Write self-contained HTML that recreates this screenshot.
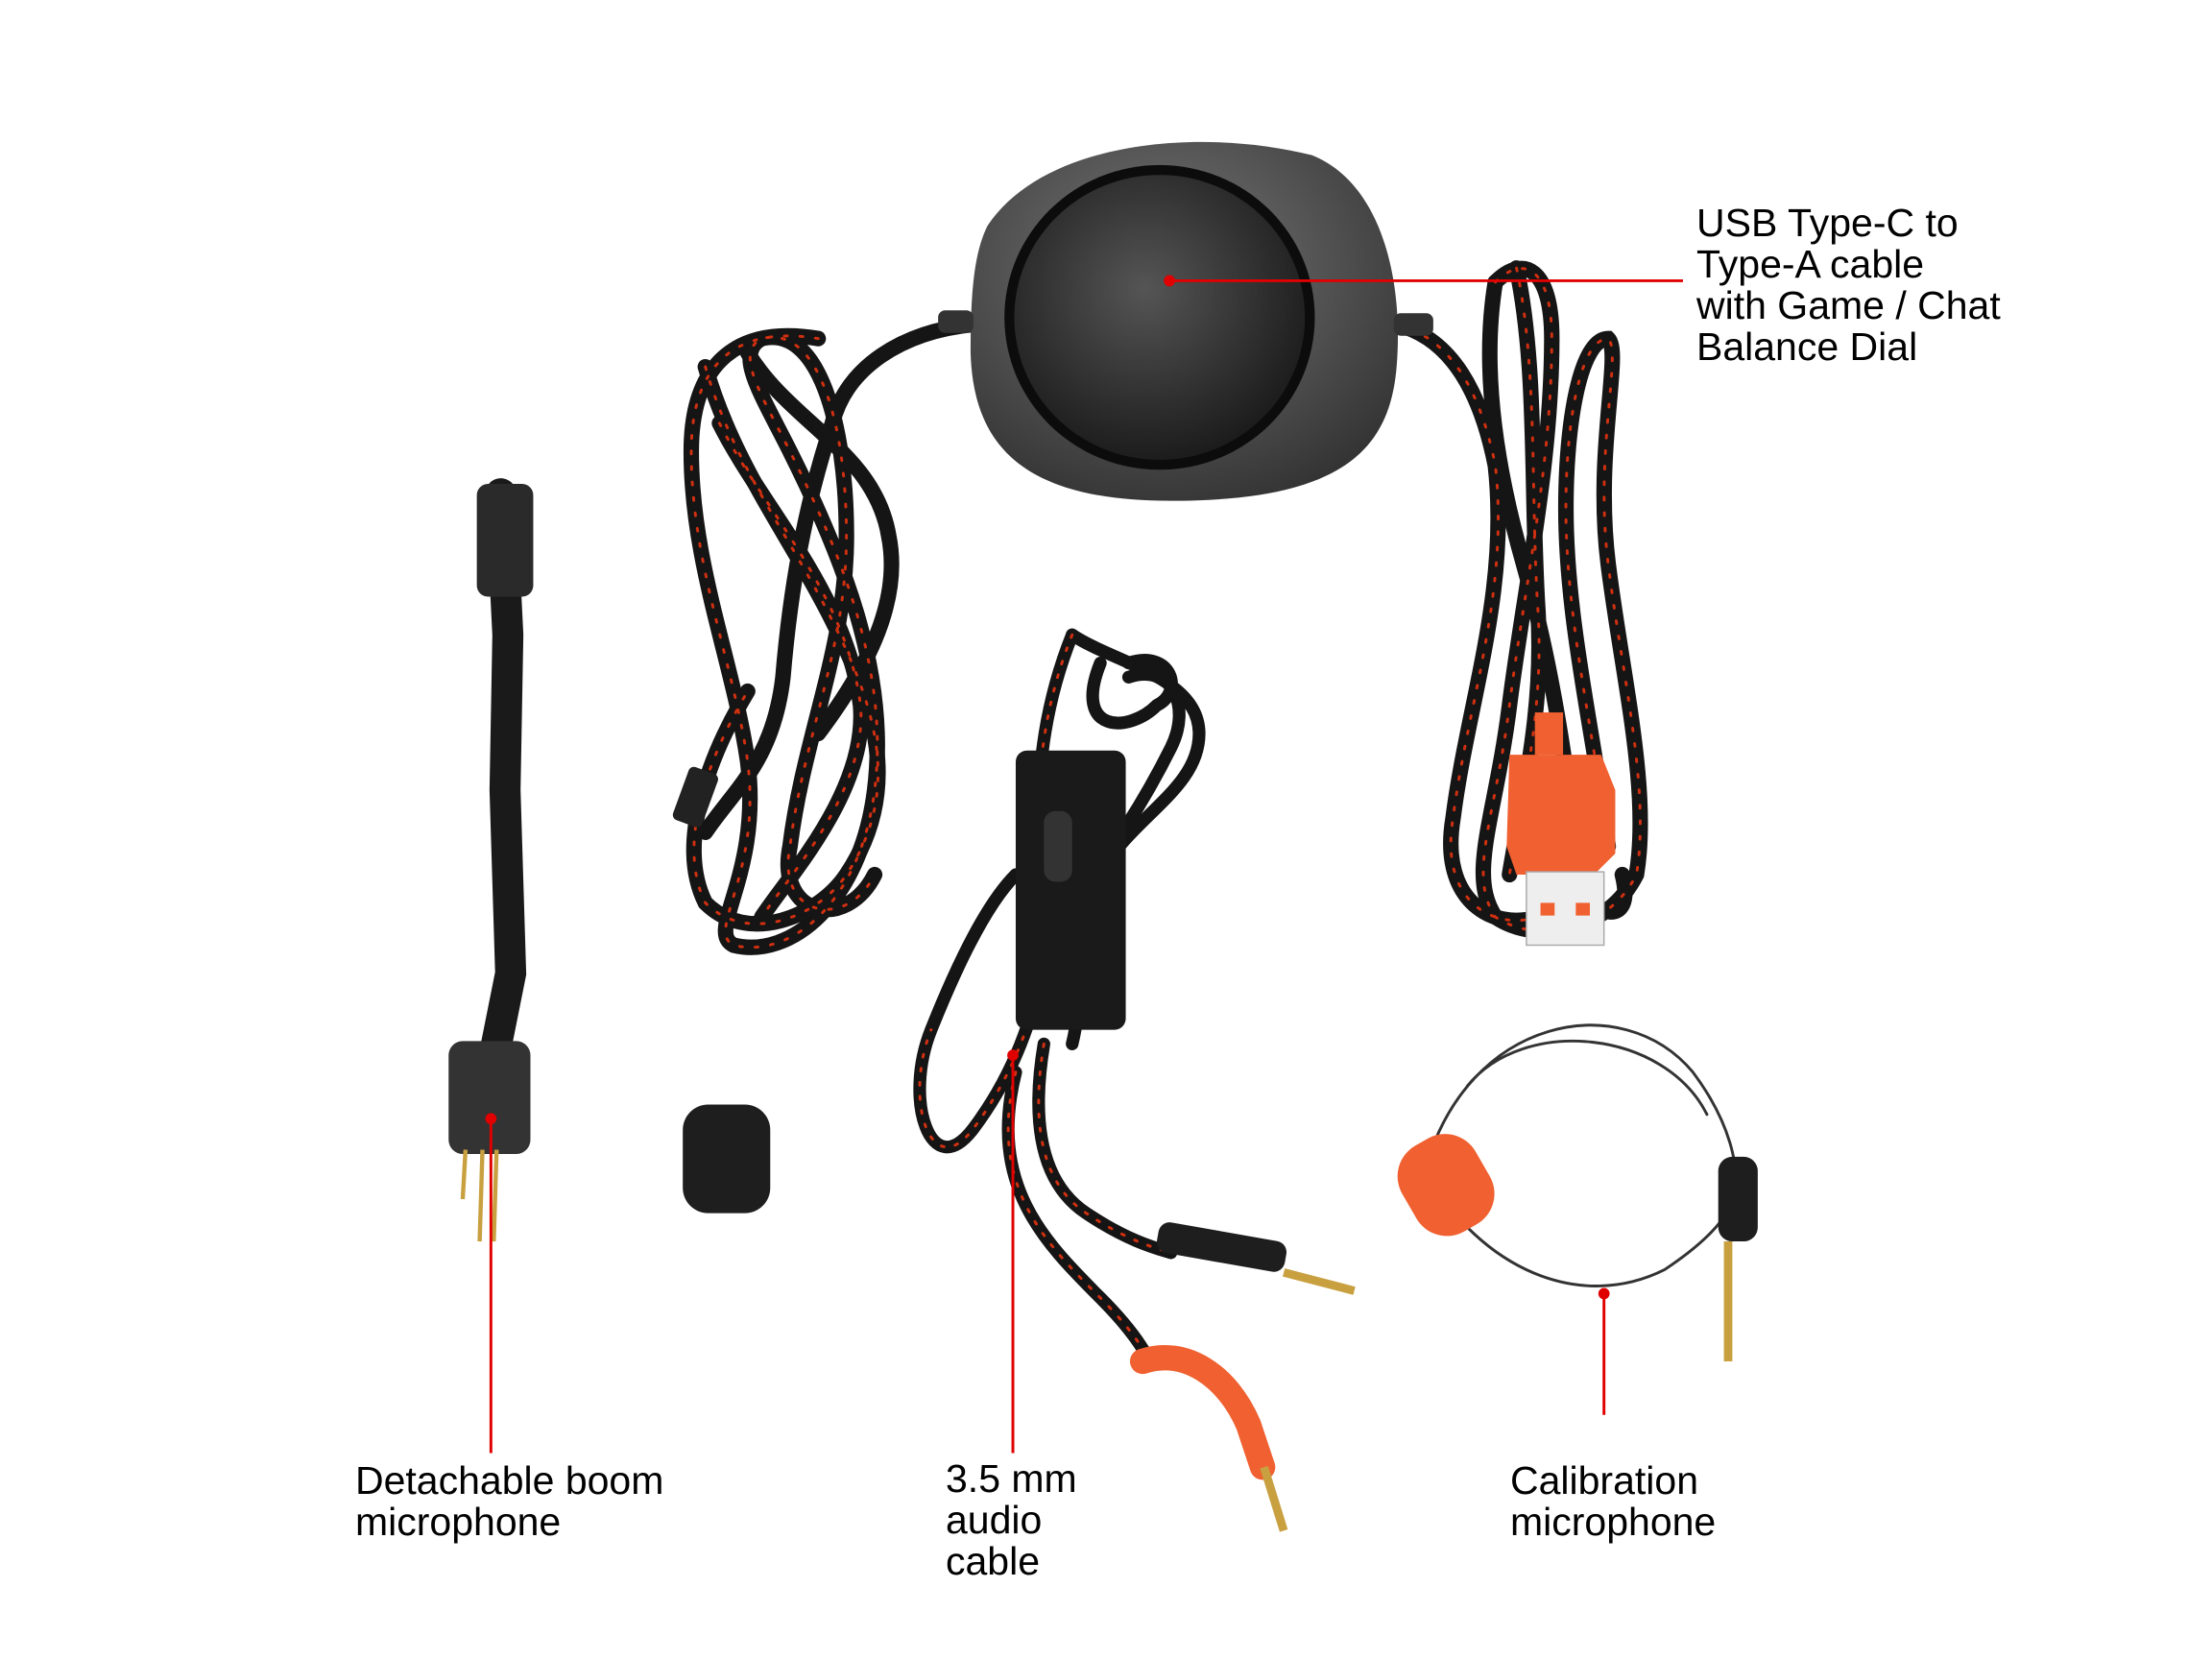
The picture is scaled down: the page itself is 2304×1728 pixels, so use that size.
<!DOCTYPE html>
<html><head><meta charset="utf-8"><style>
html,body{margin:0;padding:0;background:#fff;}
body{width:2304px;height:1728px;position:relative;overflow:hidden;}
svg{position:absolute;left:0;top:0;}
.t{position:absolute;font-family:"Liberation Sans",sans-serif;font-size:41px;line-height:43px;color:#000;white-space:nowrap;}
</style></head><body>
<svg width="2304" height="1728" viewBox="0 0 1568 1176" preserveAspectRatio="none">
<defs>
<radialGradient id="g1" cx="45%" cy="35%" r="70%"><stop offset="0" stop-color="#777"/><stop offset="1" stop-color="#333"/></radialGradient>
<radialGradient id="g2" cx="45%" cy="40%" r="65%"><stop offset="0" stop-color="#555"/><stop offset="1" stop-color="#181818"/></radialGradient>
</defs>
<g fill="none" stroke-linecap="round">
<g stroke="#151515" stroke-width="11">
<path d="M690 230 C640 235 600 260 590 300 C570 360 560 420 555 480 C548 540 520 560 500 590"/>
<path d="M580 240 C520 230 490 260 490 320 C490 400 520 470 530 540 C540 620 500 660 520 670 C560 680 610 640 620 560 C630 480 600 400 560 320 C540 280 520 250 540 240 C580 230 600 300 600 380 C600 460 570 520 560 600 C550 650 600 660 620 620"/>
<path d="M500 260 C520 330 560 380 590 440 C620 500 640 560 600 620 C580 650 530 670 500 640 C480 600 500 540 530 490"/>
<path d="M530 250 C560 300 620 320 630 380 C640 430 610 480 580 520"/>
<path d="M510 300 C540 360 600 420 610 500 C615 560 560 620 540 650"/>
</g>
<g stroke="#d03010" stroke-width="2" stroke-dasharray="2 9">
<path d="M580 240 C520 230 490 260 490 320 C490 400 520 470 530 540 C540 620 500 660 520 670 C560 680 610 640 620 560 C630 480 600 400 560 320 C540 280 520 250 540 240 C580 230 600 300 600 380 C600 460 570 520 560 600 C550 650 600 660 620 620"/>
<path d="M500 260 C520 330 560 380 590 440 C620 500 640 560 600 620 C580 650 530 670 500 640 C480 600 500 540 530 490"/>
<path d="M510 300 C540 360 600 420 610 500 C615 560 560 620 540 650"/>
</g>
<g stroke="#151515" stroke-width="11">
<path d="M990 230 C1030 240 1050 280 1060 330 C1070 420 1040 500 1030 580 C1020 640 1060 660 1090 650"/>
<path d="M1060 200 C1080 180 1100 190 1100 240 C1100 330 1080 420 1070 500 C1060 580 1040 620 1060 650 C1090 670 1140 660 1160 620 C1170 560 1150 480 1140 400 C1130 320 1150 250 1140 240 C1120 240 1110 300 1110 360 C1110 440 1130 520 1140 600"/>
<path d="M1060 200 C1050 260 1060 330 1080 400 C1100 470 1110 540 1120 620 C1125 650 1160 660 1150 620"/>
<path d="M1075 190 C1090 260 1085 350 1090 430 C1095 500 1080 560 1070 620"/>
</g>
<g stroke="#d03010" stroke-width="2" stroke-dasharray="2 9">
<path d="M1060 200 C1080 180 1100 190 1100 240 C1100 330 1080 420 1070 500 C1060 580 1040 620 1060 650 C1090 670 1140 660 1160 620 C1170 560 1150 480 1140 400 C1130 320 1150 250 1140 240 C1120 240 1110 300 1110 360 C1110 440 1130 520 1140 600"/>
<path d="M990 230 C1030 240 1050 280 1060 330 C1070 420 1040 500 1030 580 C1020 640 1060 660 1090 650"/>
<path d="M1075 190 C1090 260 1085 350 1090 430 C1095 500 1080 560 1070 620"/>
</g>
<g stroke="#151515" stroke-width="9">
<path d="M760 450 C740 500 730 560 740 640 C745 700 720 760 690 800 C660 840 640 780 660 730 C680 680 700 640 720 620"/>
<path d="M760 450 C790 470 850 480 850 520 C850 560 800 580 780 620 C760 660 770 700 760 740"/>
<path d="M740 740 C730 800 740 840 770 860 C800 880 820 885 830 888"/>
<path d="M720 760 C700 840 740 880 780 920 C800 940 810 955 815 965"/>
<path d="M800 480 C830 470 845 500 830 530 C810 570 790 600 760 640"/>
<path d="M780 470 C760 520 800 520 820 500 C840 490 830 460 800 470"/>
</g>
<g stroke="#d03010" stroke-width="2" stroke-dasharray="2 8">
<path d="M760 450 C740 500 730 560 740 640 C745 700 720 760 690 800 C660 840 640 780 660 730"/>
<path d="M740 740 C730 800 740 840 770 860 C800 880 820 885 830 888"/>
<path d="M720 760 C700 840 740 880 780 920 C800 940 810 955 815 965"/>
</g>
<path d="M1010 830 C1040 720 1150 700 1200 760 C1230 800 1230 830 1230 830 M1010 830 C1050 900 1120 930 1180 900 C1210 880 1230 860 1230 840 M1040 770 C1080 720 1180 730 1210 790" stroke="#333" stroke-width="2"/>
</g>
<path d="M700 160 C740 100 850 90 930 110 C980 130 995 200 990 260 C985 320 950 355 830 355 C730 355 690 320 688 250 C688 210 690 180 700 160Z" fill="url(#g1)"/>
<ellipse cx="822" cy="225" rx="110" ry="108" fill="#0c0c0c"/>
<ellipse cx="822" cy="225" rx="103" ry="101" fill="url(#g2)"/>
<rect x="665" y="220" width="25" height="16" rx="5" fill="#333"/>
<rect x="988" y="222" width="28" height="16" rx="5" fill="#333"/>
<rect x="482" y="545" width="22" height="40" rx="4" fill="#222" transform="rotate(20 493 565)"/>
<rect x="1088" y="505" width="20" height="30" fill="#f06030"/>
<path d="M1070 535 H1135 L1145 560 V605 L1130 620 H1075 L1068 600Z" fill="#f06030"/>
<rect x="1082" y="618" width="55" height="52" fill="#eee" stroke="#aaa"/>
<rect x="1092" y="640" width="10" height="9" fill="#f06030"/><rect x="1117" y="640" width="10" height="9" fill="#f06030"/>
<path d="M355 350 L360 450 L358 560 L362 690 L352 740" stroke="#1a1a1a" stroke-width="22" fill="none" stroke-linecap="round"/>
<rect x="338" y="343" width="40" height="80" rx="8" fill="#2a2a2a"/>
<rect x="318" y="738" width="58" height="80" rx="10" fill="#333"/>
<path d="M330 815 L328 850 M342 815 L340 880 M352 815 L350 880" stroke="#c9a040" stroke-width="3"/>
<rect x="484" y="783" width="62" height="77" rx="18" fill="#1e1e1e"/>
<rect x="720" y="532" width="78" height="198" rx="8" fill="#1a1a1a"/>
<rect x="740" y="575" width="20" height="50" rx="8" fill="#333"/>
<rect x="820" y="873" width="92" height="22" rx="8" fill="#1e1e1e" transform="rotate(10 866 884)"/>
<path d="M910 902 L960 915" stroke="#c9a040" stroke-width="6"/>
<path d="M810 965 C840 955 870 975 885 1010 L895 1040" stroke="#f06030" stroke-width="18" fill="none" stroke-linecap="round"/>
<path d="M896 1040 L910 1085" stroke="#c9a040" stroke-width="6"/>
<rect x="995" y="805" width="60" height="70" rx="25" fill="#f06030" transform="rotate(-30 1025 840)"/>
<rect x="1218" y="820" width="28" height="60" rx="10" fill="#1e1e1e"/>
<path d="M1225 880 L1225 965" stroke="#c9a040" stroke-width="6"/>
<g stroke="#e00000" stroke-width="2">
<line x1="829" y1="199" x2="1193" y2="199"/>
<line x1="348" y1="793" x2="348" y2="1030"/>
<line x1="718" y1="748" x2="718" y2="1030"/>
<line x1="1137" y1="917" x2="1137" y2="1003"/>
</g>
<g fill="#e00000">
<circle cx="829" cy="199" r="4"/><circle cx="348" cy="793" r="4"/><circle cx="718" cy="748" r="4"/><circle cx="1137" cy="917" r="4"/>
</g>
</svg>
<div class="t" style="left:1767px;top:211px;">USB Type-C to<br>Type-A cable<br>with Game / Chat<br>Balance Dial</div>
<div class="t" style="left:370px;top:1521px;">Detachable boom<br>microphone</div>
<div class="t" style="left:985px;top:1519px;">3.5 mm<br>audio<br>cable</div>
<div class="t" style="left:1573px;top:1521px;">Calibration<br>microphone</div>
</body></html>
